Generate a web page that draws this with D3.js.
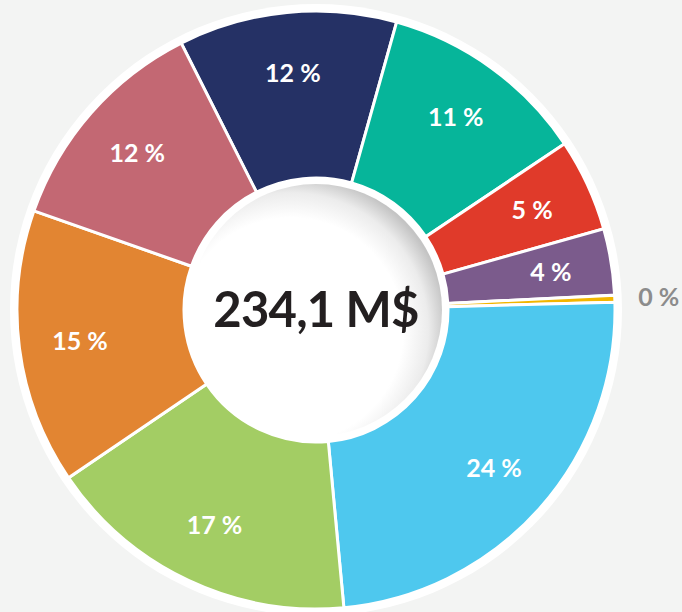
<!DOCTYPE html>
<html><head><meta charset="utf-8">
<script src="https://cdn.jsdelivr.net/npm/d3@7"></script>
<style>
html,body{margin:0;padding:0;background:#f3f4f3;}
svg{display:block;}
</style></head>
<body>
<svg id="chart" width="682" height="612"></svg>
<script>
const categories = ["A","B","C","D","E","F","G","H","I"];
const values = [27.6, 26.4, 11.7, 8.4, 0.9, 56.0, 39.8, 34.8, 28.5];
const percentLabels = ["12 %","11 %","5 %","4 %","0 %","24 %","17 %","15 %","12 %"];
const colors = ["#253165","#06b59a","#e03a2a","#7b5b8c","#f2b600","#4ec8ee","#a3cd64","#e28532","#c36873"];
const totalLabel = "234,1 M$";

const svg = d3.select("#chart");
const cx = 316, cy = 310, R = 299, r = 132;
const defs = svg.append("defs");
const grad = defs.append("radialGradient").attr("id","innerShade")
  .attr("cx","40%").attr("cy","58%").attr("r","62%").attr("fx","40%").attr("fy","58%");
grad.append("stop").attr("offset","0%").attr("stop-color","#ffffff");
grad.append("stop").attr("offset","72%").attr("stop-color","#ffffff");
grad.append("stop").attr("offset","88%").attr("stop-color","#ececec");
grad.append("stop").attr("offset","100%").attr("stop-color","#c4c4c4");

const g = svg.append("g").attr("transform",`translate(${cx},${cy})`);
g.append("circle").attr("r", R+7).attr("fill","#ffffff");

const pie = d3.pie().sort(null).value(d=>d)
  .startAngle(-26.8*Math.PI/180).endAngle(2*Math.PI-26.8*Math.PI/180);
const arcs = pie(values);
const arc = d3.arc().innerRadius(r).outerRadius(R);
g.selectAll("path.slice").data(arcs).join("path").attr("class","slice")
  .attr("d", arc).attr("fill",(d,i)=>colors[i])
  .attr("stroke","#ffffff").attr("stroke-width",3).attr("stroke-linejoin","miter");

g.append("circle").attr("r", r).attr("fill","#ffffff");
g.append("circle").attr("r", r-6).attr("fill","url(#innerShade)");

const labelArc = d3.arc().innerRadius(238).outerRadius(238);
const outerArc = d3.arc().innerRadius(343).outerRadius(343);
g.selectAll("text.pct").data(arcs).join("text").attr("class","pct")
  .attr("transform",(d,i)=>{
    const c = (values[i]/d3.sum(values) < 0.01 ? outerArc : labelArc).centroid(d);
    return `translate(${c[0]},${c[1]})`;
  })
  .attr("text-anchor","middle").attr("dy","0.36em")
  .attr("font-family","Lato, sans-serif").attr("font-weight","bold").attr("font-size",25)
  .attr("fill",(d,i)=> values[i]/d3.sum(values) < 0.01 ? "#8c8c8c" : "#ffffff")
  .text((d,i)=>percentLabels[i]);

g.append("text").attr("text-anchor","middle").attr("y",17)
  .attr("font-family","Lato, sans-serif").attr("font-weight","bold").attr("font-size",49)
  .attr("letter-spacing","-0.8")
  .attr("fill","#231f20").text(totalLabel);
</script>
</body></html>
